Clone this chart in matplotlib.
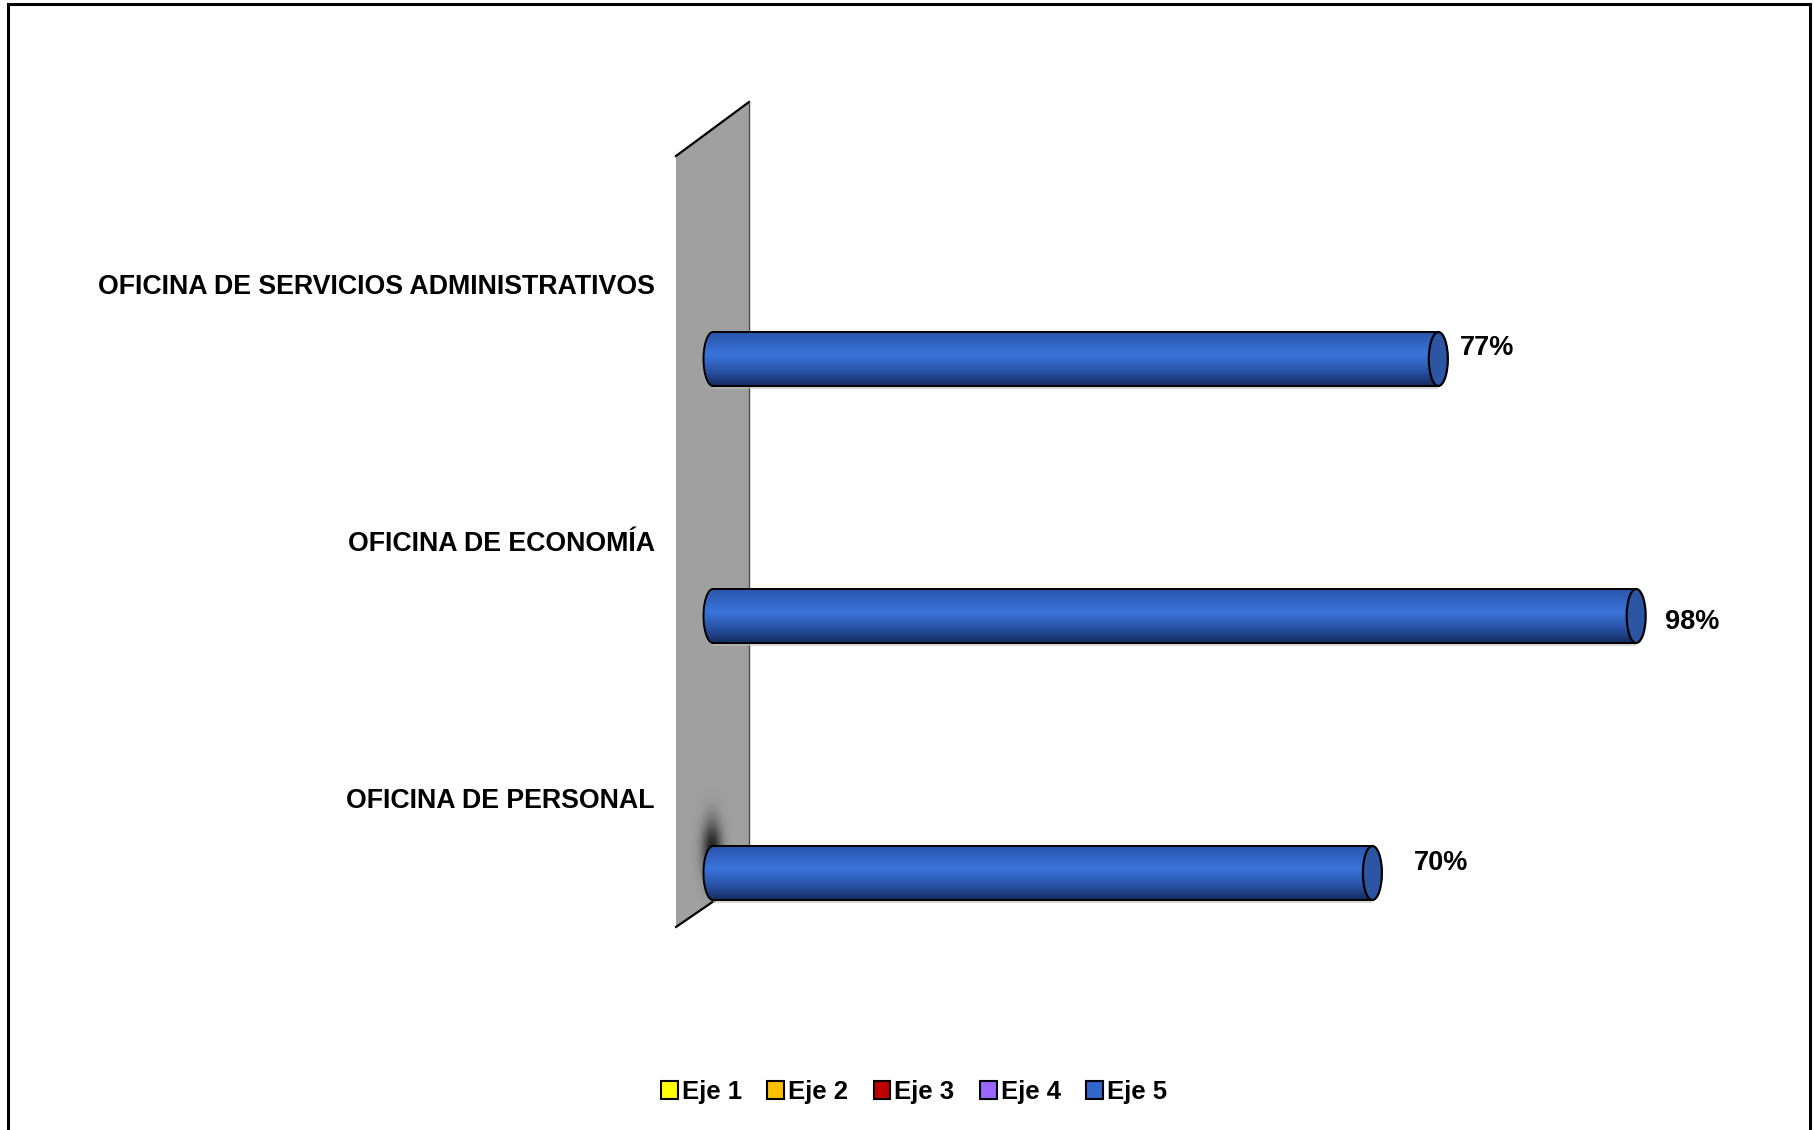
import numpy as np
import matplotlib
matplotlib.use("Agg")
import matplotlib.pyplot as plt
from matplotlib.patches import Polygon, Ellipse, Patch, Rectangle
from matplotlib.colors import LinearSegmentedColormap

# ---------------- data ----------------
categories = ["OFICINA DE PERSONAL", "OFICINA DE ECONOMÍA",
              "OFICINA DE SERVICIOS ADMINISTRATIVOS"]
values = [70, 98, 77]
value_labels = ["70%", "98%", "77%"]
series_names = ["Eje 1", "Eje 2", "Eje 3", "Eje 4", "Eje 5"]
series_colors = ["#ffff00", "#ffc000", "#c00000", "#9966ff", "#3366cc"]

# ---------------- style ----------------
FONT = "Liberation Sans"
W, H = 1814, 1130
PX_ZERO, PX_PER_UNIT = 713, 9.42      # x pixel of 0 %, pixels per 1 %
PX_PER_CAT = 257                      # vertical pixel spacing of categories
CAT0_PX = 873                         # pixel row (from top) of first category
label_offsets_px = [(41, -10), (29, 6), (22, -11)]

fig = plt.figure(figsize=(W / 100, H / 100), dpi=100)
ax_w = 100 * PX_PER_UNIT
ax_h = 3 * PX_PER_CAT
ax_bottom = H - (CAT0_PX + 0.5 * PX_PER_CAT)
ax = fig.add_axes([PX_ZERO / W, ax_bottom / H, ax_w / W, ax_h / H])
ax.set_xlim(0, 100)
ax.set_ylim(-0.5, 2.5)
ax.axis("off")

ux = 1.0 / PX_PER_UNIT          # data units per pixel, x
uy = 1.0 / PX_PER_CAT           # data units per pixel, y

# figure border
fig.patches.append(Rectangle((8 / W, -0.05), (1810 - 8) / W, (H - 4) / H + 0.05,
                             transform=fig.transFigure, fill=False,
                             edgecolor="black", linewidth=2.2))

# ---------------- wall ----------------
xl, xr = (676 - PX_ZERO) * ux, (749 - PX_ZERO) * ux
def py(p):
    return (CAT0_PX - p) * uy
wall = Polygon([(xl, py(927)), (xl, py(156)), (xr, py(102)), (xr, py(877))],
               closed=True, facecolor="#a0a0a0", edgecolor="none",
               clip_on=False, zorder=1)
ax.add_patch(wall)
ax.plot([xl, xr], [py(156), py(102)], color="black", lw=1.6, clip_on=False, zorder=2)
ax.plot([xl, xr], [py(927), py(877)], color="black", lw=1.6, clip_on=False, zorder=2)
ax.plot([xr, xr], [py(102), py(877)], color="#4a4a4a", lw=1.0, clip_on=False, zorder=2)

# soft shadow on wall near the lowest bar
gx = np.linspace(xl, xr, 80)
gy = np.linspace(py(927), py(780), 120)
GX, GY = np.meshgrid(gx, gy)
x0, y0 = (712 - PX_ZERO) * ux, py(850)
alpha = 0.8 * np.exp(-((GX - x0) / (10 * ux)) ** 2 - ((GY - y0) / (30 * uy)) ** 2)
shadow = np.zeros(GX.shape + (4,))
shadow[..., 3] = alpha
im = ax.imshow(shadow, extent=[xl, xr, py(927), py(780)], origin="lower",
               aspect="auto", zorder=2.5, interpolation="bilinear")
im.set_clip_box(fig.bbox)
im.set_clip_path(wall)

# ---------------- cylinders ----------------
cap_a = 9.5 * ux
half_h = 27 * uy
grad = LinearSegmentedColormap.from_list(
    "cyl", [(0.0, "#142c5e"), (0.25, "#2850a0"), (0.58, "#3a74da"),
            (0.75, "#3468c8"), (1.0, "#2a56aa")])
grad_arr = grad(np.linspace(0, 1, 64))[:, None, :3]

for i, v in enumerate(values):
    # faint drop shadow under the cylinder
    ax.add_patch(Rectangle((0, i - half_h - 3 * uy), v, 3 * uy,
                           facecolor="#bbbbbb", edgecolor="none",
                           alpha=0.6, zorder=2.8, clip_on=False))
    t = np.linspace(np.pi / 2, 3 * np.pi / 2, 40)
    pts = [(cap_a * np.cos(tt), i + half_h * np.sin(tt)) for tt in t]
    pts += [(v, i - half_h), (v, i + half_h)]
    body = Polygon(pts, closed=True, facecolor="none", edgecolor="black",
                   linewidth=1.4, clip_on=False, zorder=4)
    ax.add_patch(body)
    img = ax.imshow(grad_arr, extent=[-cap_a, v, i - half_h, i + half_h],
                    origin="lower", aspect="auto", zorder=3,
                    interpolation="bicubic")
    img.set_clip_box(fig.bbox)
    img.set_clip_path(body)
    cap = Ellipse((v, i), 2 * cap_a, 2 * half_h, facecolor="#2c56a4",
                  edgecolor="black", linewidth=1.6, clip_on=False, zorder=5)
    ax.add_patch(cap)
    dx, dy = label_offsets_px[i]
    ax.annotate(value_labels[i], xy=(v, i), xytext=(dx * 0.72, -dy * 0.72),
                textcoords="offset points", ha="left", va="center",
                fontsize=19.5, fontweight="bold", family=FONT, zorder=6)
    ax.text((655 - PX_ZERO) * ux, i + 72 * uy, categories[i], ha="right",
            va="center", fontsize=19.3, fontweight="bold", family=FONT)

ax.set_xlim(0, 100)
ax.set_ylim(-0.5, 2.5)

# ---------------- legend ----------------
handles = [Patch(facecolor=c, edgecolor="black", linewidth=1.5) for c in series_colors]
fig.legend(handles, series_names, loc="center", bbox_to_anchor=(914 / W, 1 - 1092 / H),
           ncol=5, frameon=False, handlelength=0.65, handleheight=0.65,
           handletextpad=0.15, columnspacing=1.0,
           prop={"family": FONT, "weight": "bold", "size": 18.5})

fig.savefig("out.png", dpi=100, facecolor="white")
